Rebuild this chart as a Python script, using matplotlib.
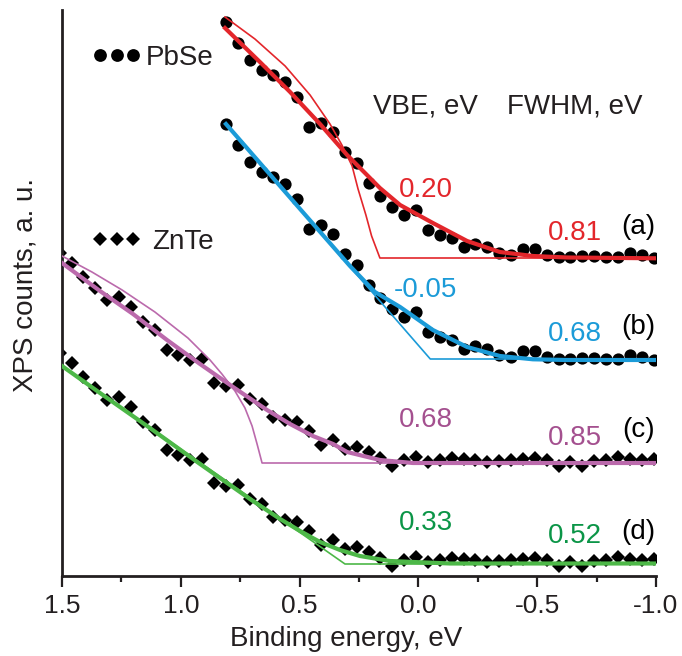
import matplotlib
matplotlib.use("Agg")
import matplotlib.pyplot as plt
from matplotlib.lines import Line2D
import numpy as np

plt.rcParams['font.family'] = ['Liberation Sans', 'DejaVu Sans']
plt.rcParams['axes.unicode_minus'] = False

# ---------------- data ----------------
# binding energy grids (eV)
pbse_energy = [0.81, 0.76, 0.71, 0.66, 0.61, 0.56, 0.51, 0.46, 0.41, 0.36,
               0.31, 0.26, 0.21, 0.16, 0.11, 0.06, 0.01, -0.04, -0.09, -0.14,
               -0.19, -0.24, -0.29, -0.34, -0.39, -0.44, -0.49, -0.54, -0.59, -0.64,
               -0.69, -0.74, -0.79, -0.84, -0.89, -0.94, -0.99]
pbse_counts = [236, 215, 198, 188, 183, 176, 161, 131, 135, 126,
               106, 95, 75, 62, 51, 43, 48, 28, 23, 20,
               11, 14, 11, 5, 3, 9, 9, 3, 1, 1,
               2, 2, 1, 1, 5, 3, 0]

znte_energy = [1.51, 1.46, 1.41, 1.36, 1.31, 1.26, 1.21, 1.16, 1.11, 1.06,
               1.01, 0.96, 0.91, 0.86, 0.81, 0.76, 0.71, 0.66, 0.61, 0.56,
               0.51, 0.46, 0.41, 0.36, 0.31, 0.26, 0.21, 0.16, 0.11, 0.06,
               0.01, -0.04, -0.09, -0.14, -0.19, -0.24, -0.29, -0.34, -0.39, -0.44,
               -0.49, -0.54, -0.59, -0.64, -0.69, -0.74, -0.79, -0.84, -0.89, -0.94,
               -0.99]
znte_counts = [207, 197, 183, 172, 160, 163, 153, 138, 130, 110,
               105, 100, 101, 77, 74, 75, 61, 56, 43, 40,
               38, 29, 15, 20, 11, 13, 8, 2, -6, 0,
               3, -2, 0, 2, 1, 0, -2, -1, 0, 1,
               2, 0, -6, -2, -6, -1, 0, 3, 1, 0,
               1]

# vertical offsets of the stacked spectra (a.u.)
offset_a, offset_b, offset_c, offset_d = 318, 216, 116, 16

# fitted curves
fit_a_thin_e = [0.814, 0.688, 0.561, 0.456, 0.372, 0.322, 0.279, 0.254, 0.221, 0.197, 0.162, -1.0]
fit_a_thin_y = [241, 219, 192, 163, 134, 113, 92, 69, 43, 22, 0, 0]
fit_a_thick_e = [0.814, 0.667, 0.540, 0.414, 0.300, 0.162, 0.077, -0.061, -0.205, -0.343, -0.482, -0.625, -1.0]
fit_a_thick_y = [230, 196, 166, 134, 103, 70, 53, 35, 17, 6, 2, 0.5, -0.3]

fit_b_thin_e = [0.810, -0.05, -1.0]
fit_b_thin_y = [236, 1, 1]
fit_b_thick_e = [0.810, 0.498, 0.288, 0.183, 0.077, -0.061, -0.205, -0.343, -0.482, -0.625, -1.0]
fit_b_thick_y = [236, 151, 94, 68, 53, 30, 13, 4, 0.7, 0, 0]

fit_c_thin_e = [1.5, 1.374, 1.247, 1.109, 0.970, 0.877, 0.827, 0.772, 0.730, 0.700, 0.679, 0.658, -1.0]
fit_c_thin_y = [204, 188, 170, 148, 122, 100, 86, 69, 52, 34, 16, -3, -3]
fit_c_thick_e = [1.5, 1.340, 1.201, 1.058, 0.919, 0.780, 0.637, 0.540, 0.444, 0.359, 0.300, 0.162, 0.023, -1.0]
fit_c_thick_y = [197, 169, 146, 120, 96, 73, 50, 36, 24, 16, 8, 0, -3, -3]

fit_d_thin_e = [1.5, 0.309, -1.0]
fit_d_thin_y = [194, -4, -4]
fit_d_thick_e = [1.5, 1.340, 1.130, 0.919, 0.709, 0.582, 0.498, 0.414, 0.330, 0.246, 0.120, -0.133, -1.0]
fit_d_thick_y = [194, 167, 132, 96, 61, 41, 29, 18, 10, 4, -1, -3.5, -3.5]

xtick_values = [1.5, 1.0, 0.5, 0.0, -0.5, -1.0]
xtick_labels = ["1.5", "1.0", "0.5", "0.0", "-0.5", "-1.0"]
minor_ticks = [1.25, 0.75, 0.25, -0.25, -0.75]

vbe_labels = ["0.20", "-0.05", "0.68", "0.33"]
fwhm_labels = ["0.81", "0.68", "0.85", "0.52"]
panel_labels = ["(a)", "(b)", "(c)", "(d)"]

# ---------------- style ----------------
RED = '#e3262b'
BLUE = '#1b9bd8'
PINK = '#bb6aac'
PINK_T = '#a4508f'
GREEN = '#4db848'
GREEN_T = '#0b9547'
INK = '#231f20'
FS_TICK = 19
FS = 20

W, H = 682, 656
fig = plt.figure(figsize=(W / 100, H / 100), dpi=100)
ax = fig.add_axes([62 / W, 80 / H, 594 / W, 566 / H])
ax.set_xlim(1.5, -1.0)
ax.set_ylim(0, 566)

def shifted(vals, off):
    return np.asarray(vals, dtype=float) + off

# data points
ax.plot(pbse_energy, shifted(pbse_counts, offset_a), 'o', color='black', ms=8.8, mew=0, zorder=2)
ax.plot(pbse_energy, shifted(pbse_counts, offset_b), 'o', color='black', ms=8.8, mew=0, zorder=2)
ax.plot(znte_energy, shifted(znte_counts, offset_c), 'D', color='black', ms=6.8, mew=0, zorder=2)
ax.plot(znte_energy, shifted(znte_counts, offset_d), 'D', color='black', ms=6.8, mew=0, zorder=2)

# fits
thin, thick = 1.2, 3.0
ax.plot(fit_a_thin_e, shifted(fit_a_thin_y, offset_a), color=RED, lw=thin, zorder=3)
ax.plot(fit_a_thick_e, shifted(fit_a_thick_y, offset_a), color=RED, lw=thick, zorder=3)
ax.plot(fit_b_thin_e, shifted(fit_b_thin_y, offset_b), color=BLUE, lw=thin, zorder=3)
ax.plot(fit_b_thick_e, shifted(fit_b_thick_y, offset_b), color=BLUE, lw=thick, zorder=3)
ax.plot(fit_c_thin_e, shifted(fit_c_thin_y, offset_c), color=PINK, lw=thin, zorder=3)
ax.plot(fit_c_thick_e, shifted(fit_c_thick_y, offset_c), color=PINK, lw=thick, zorder=3)
ax.plot(fit_d_thin_e, shifted(fit_d_thin_y, offset_d), color=GREEN, lw=thin, zorder=3)
ax.plot(fit_d_thick_e, shifted(fit_d_thick_y, offset_d), color=GREEN, lw=thick, zorder=3)

# axes styling
for s in ['top', 'right']:
    ax.spines[s].set_visible(False)
for s in ['left', 'bottom']:
    ax.spines[s].set_linewidth(2.0)
    ax.spines[s].set_color(INK)
ax.set_yticks([])
ax.set_xticks(xtick_values)
ax.set_xticklabels(xtick_labels)
ax.set_xticks(minor_ticks, minor=True)
ax.tick_params(axis='x', which='major', direction='out', length=8, width=1.6,
               colors=INK, labelsize=FS_TICK, pad=5)
ax.tick_params(axis='x', which='minor', direction='out', length=4.5, width=1.6, colors=INK)
ax.set_xlabel("Binding energy, eV", fontsize=FS, color=INK, va='center')
ax.xaxis.set_label_coords((346 - 62) / 594, (576 - 639.5) / 566)
ax.set_ylabel("XPS counts, a. u.", fontsize=FS, color=INK, va='center')
ax.yaxis.set_label_coords((26 - 62) / 594, (576 - 285) / 566)

# pixel helpers for annotation placement
def ex(px):
    return 1.5 - (px - 62) / 237.6

def yy(py):
    return 576 - py

ax.text(ex(373), yy(113.3), "VBE, eV", fontsize=FS, color=INK, ha='left', va='baseline')
ax.text(ex(507), yy(113.3), "FWHM, eV", fontsize=FS, color=INK, ha='left', va='baseline')

vbe_colors = [RED, BLUE, PINK_T, GREEN_T]
vbe_base = [196.7, 296.7, 426.7, 530]
fwhm_base = [239.5, 340.7, 445, 543.3]
panel_base = [234, 334, 437, 539]
for i in range(4):
    ax.text(ex(425.5), yy(vbe_base[i]), vbe_labels[i], fontsize=FS, color=vbe_colors[i],
            ha='center', va='baseline')
    ax.text(ex(602), yy(fwhm_base[i]), fwhm_labels[i], fontsize=FS, color=vbe_colors[i],
            ha='right', va='baseline')
    ax.text(ex(655), yy(panel_base[i]), panel_labels[i], fontsize=FS, color='black',
            ha='right', va='baseline')

# legends
h1 = Line2D([], [], ls='none', marker='o', color='black', ms=9.2, mew=0)
h2 = Line2D([], [], ls='none', marker='D', color='black', ms=6.8, mew=0)
leg1 = ax.legend([h1], ["PbSe"], loc='center left', bbox_to_anchor=(92 / W, 1 - 58 / H),
                 bbox_transform=fig.transFigure, frameon=False, numpoints=3,
                 handlelength=1.78, handletextpad=0.15, borderpad=0, borderaxespad=0,
                 fontsize=FS, labelcolor=INK)
ax.add_artist(leg1)
ax.legend([h2], ["ZnTe"], loc='center left', bbox_to_anchor=(92 / W, 1 - 242 / H),
          bbox_transform=fig.transFigure, frameon=False, numpoints=3,
          handlelength=1.78, handletextpad=0.4, borderpad=0, borderaxespad=0,
          fontsize=FS, labelcolor=INK)

fig.savefig("out.png", dpi=100)
